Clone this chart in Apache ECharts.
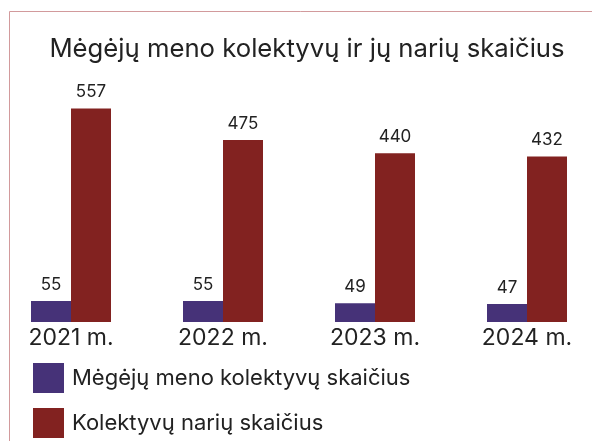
<!DOCTYPE html>
<html>
<head>
<meta charset="utf-8">
<script src="https://cdn.jsdelivr.net/npm/echarts@6/dist/echarts.min.js"></script>
<style>
  html, body { margin: 0; padding: 0; background: #fff; }
  #chart { width: 592px; height: 441px; }
</style>
</head>
<body>
<div id="chart"></div>
<script>
// Years shown on the category axis
const years = ['2021 m.', '2022 m.', '2023 m.', '2024 m.'];
// Number of amateur art groups per year
const groups = [55, 55, 49, 47];
// Number of members in those groups per year
const members = [557, 475, 440, 432];

const seriesNames = ['Mėgėjų meno kolektyvų skaičius', 'Kolektyvų narių skaičius'];
const FONT = 'Inter';

const chart = echarts.init(document.getElementById('chart'));

const barLabel = {
  show: true,
  position: 'top',
  distance: 8,
  color: '#222',
  fontFamily: FONT,
  fontSize: 17
};

// One legend block per series, stacked under the plot
const legendRow = (name, top) => ({
  orient: 'vertical',
  left: 28,
  top: top,
  itemWidth: 31,
  itemHeight: 30,
  icon: 'rect',
  textStyle: { fontFamily: FONT, fontSize: 22, color: '#222', padding: [0, 0, 0, 3] },
  data: [name]
});

chart.setOption({
  animation: false,
  title: {
    text: 'Mėgėjų meno kolektyvų ir jų narių skaičius',
    left: 302,
    textAlign: 'center',
    top: 31,
    textStyle: { fontFamily: FONT, fontWeight: 'normal', fontSize: 25.7, color: '#222' }
  },
  graphic: [{
    type: 'polyline',
    shape: { points: [[9.5, 441], [9.5, 11.5], [592, 11.5]] },
    style: { stroke: '#d29a9c', lineWidth: 1, fill: null }
  }],
  legend: [legendRow(seriesNames[0], 358), legendRow(seriesNames[1], 403)],
  grid: { left: -5, right: -11, top: 92, bottom: 119, outerBoundsMode: 'none' },
  xAxis: {
    type: 'category',
    data: years,
    axisLine: { show: false },
    axisTick: { show: false },
    axisLabel: { margin: 5, color: '#222', fontFamily: FONT, fontSize: 23 }
  },
  yAxis: {
    type: 'value',
    min: 0,
    max: 600,
    show: false,
    splitLine: { show: false }
  },
  series: [
    {
      name: seriesNames[0],
      type: 'bar',
      data: groups,
      barWidth: 40,
      barGap: '0%',
      itemStyle: { color: '#463278' },
      label: barLabel
    },
    {
      name: seriesNames[1],
      type: 'bar',
      data: members,
      barWidth: 40,
      itemStyle: { color: '#822220' },
      label: barLabel
    }
  ]
});
</script>
</body>
</html>
